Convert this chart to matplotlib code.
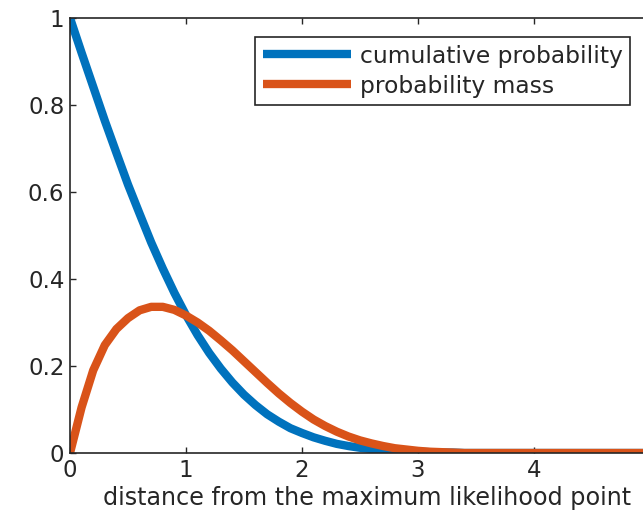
import matplotlib
matplotlib.use("Agg")
import matplotlib.pyplot as plt

# values
dist = [0.0, 0.1, 0.2, 0.3, 0.4, 0.5, 0.6, 0.7, 0.8, 0.9,
        1.0, 1.1, 1.2, 1.3, 1.4, 1.5, 1.6, 1.7, 1.8, 1.9,
        2.0, 2.1, 2.2, 2.3, 2.4, 2.5, 2.6, 2.7, 2.8, 2.9,
        3.0, 3.1, 3.2, 3.3, 3.4, 5.0]
cumulative = [1.0, 0.92, 0.842, 0.764, 0.69, 0.617, 0.55, 0.484, 0.424, 0.368,
              0.317, 0.271, 0.23, 0.194, 0.162, 0.134, 0.11, 0.089, 0.072, 0.057,
              0.046, 0.036, 0.028, 0.021, 0.016, 0.012, 0.009, 0.007, 0.005, 0.004,
              0.003, 0.002, 0.001, 0.001, 0.0, 0.0]
mass = [0.0, 0.105, 0.19, 0.248, 0.285, 0.31, 0.328, 0.336, 0.336, 0.329,
        0.316, 0.3, 0.281, 0.259, 0.236, 0.211, 0.186, 0.161, 0.137, 0.115,
        0.095, 0.077, 0.062, 0.049, 0.038, 0.029, 0.022, 0.016, 0.011, 0.008,
        0.005, 0.003, 0.002, 0.001, 0.0, 0.0]
labels = ["cumulative probability", "probability mass"]
colors = ["#0072BD", "#D95319"]
xticks = [0, 1, 2, 3, 4, 5]
xticklabels = ["0", "1", "2", "3", "4", ""]  # 5 lies past the cropped edge
yticks = [0, 0.2, 0.4, 0.6, 0.8, 1]
yticklabels = ["0", "0.2", "0.4", "0.6", "0.8", "1"]

dark = "#262626"
plt.rcParams["font.family"] = "DejaVu Sans"

fig = plt.figure(figsize=(6.43, 5.14), dpi=100)
# axes run past the right edge, like the cropped original
ax = fig.add_axes([70 / 643, 61 / 514, 580 / 643, 435 / 514])

for y, lab, c in zip([cumulative, mass], labels, colors):
    ax.plot(dist, y, color=c, linewidth=6, label=lab,
            solid_capstyle="butt", solid_joinstyle="round")

ax.set_xlim(0, 5)
ax.set_ylim(0, 1)
ax.set_xticks(xticks)
ax.set_xticklabels(xticklabels)
ax.set_yticks(yticks)
ax.set_yticklabels(yticklabels)
ax.tick_params(direction="in", length=4, width=1, colors=dark, labelsize=16.5,
               top=True, right=True, pad=4)
for s in ax.spines.values():
    s.set_color(dark)
    s.set_linewidth(1.2)

ax.set_xlabel("distance from the maximum likelihood point", fontsize=17.2,
              color=dark)
ax.xaxis.set_label_coords(0.512, -0.075)

leg = ax.legend(loc="upper right", bbox_to_anchor=(0.9655, 0.956),
                borderaxespad=0, fontsize=16.8, handlelength=3.8,
                handletextpad=0.35, labelspacing=0.3, borderpad=0.32,
                fancybox=False, framealpha=1)
leg.get_frame().set_edgecolor(dark)
leg.get_frame().set_linewidth(1.2)
for t in leg.get_texts():
    t.set_color(dark)

fig.savefig("out.png", dpi=100)
